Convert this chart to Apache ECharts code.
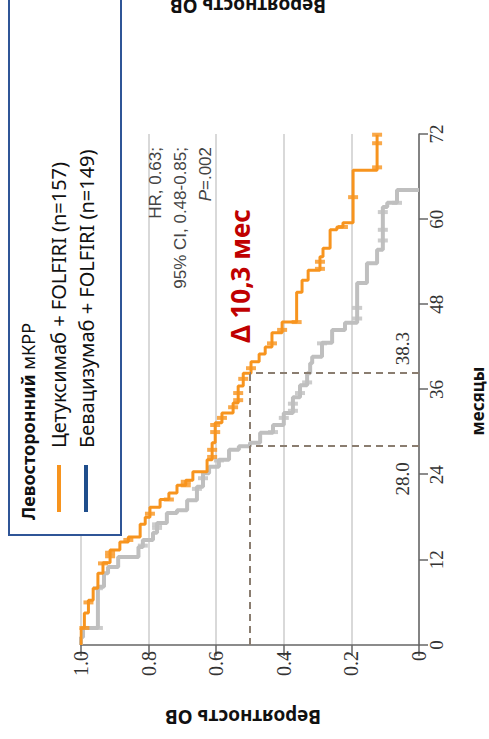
<!DOCTYPE html>
<html><head><meta charset="utf-8">
<script src="https://cdn.jsdelivr.net/npm/echarts@6/dist/echarts.min.js"></script>
<style>
html,body{margin:0;padding:0;width:489px;height:739px;overflow:hidden;background:#fff;}
#chart{position:absolute;left:0;top:0;width:739px;height:489px;transform-origin:0 0;transform:translate(0,739px) rotate(-90deg);}
</style></head><body><div id="chart"></div>
<script>
// ---- data ----
const monthTicks = [0, 12, 24, 36, 48, 60, 72];
const probTicks = [0, 0.2, 0.4, 0.6, 0.8, 1.0];
const cetuxName = 'Цетуксимаб + FOLFIRI (n=157)';
const bevaName = 'Бевацизумаб + FOLFIRI (n=149)';
const cetuxTimes = [2.4, 4.5, 6.3, 8.0, 10.1, 11.6, 13.4, 14.5, 15.2, 17.0, 18.0, 19.4, 20.5, 21.4, 22.5, 23.2, 24.4, 26.1, 28.5, 31.3, 32.7, 34.1, 36.5, 38.3, 39.9, 41.0, 42.0, 44.0, 45.5, 49.7, 51.4, 52.8, 54.7, 55.9, 58.5, 58.9, 59.5, 66.9];
const cetuxSurv = [0.990, 0.978, 0.964, 0.950, 0.935, 0.914, 0.885, 0.860, 0.825, 0.810, 0.796, 0.766, 0.740, 0.716, 0.690, 0.669, 0.627, 0.612, 0.603, 0.583, 0.550, 0.535, 0.520, 0.497, 0.473, 0.455, 0.435, 0.405, 0.362, 0.346, 0.328, 0.293, 0.284, 0.263, 0.243, 0.225, 0.195, 0.124];
const cetuxEnd = 71.9;
const cetuxCensor = [2.4, 6.0, 11.5, 12.5, 13.0, 14.8, 18.5, 20.5, 22.5, 23.0, 26.5, 27.5, 30.0, 31.0, 32.0, 33.5, 34.5, 35.5, 37.5, 39.0, 42.5, 44.4, 45.5, 53.0, 54.0, 58.9, 63.1, 67.3, 70.7, 71.9];
const bevaTimes = [1.1, 2.4, 8.2, 10.1, 11.0, 12.4, 13.8, 14.8, 15.8, 17.2, 18.6, 19.0, 20.4, 22.3, 24.2, 25.1, 26.1, 27.5, 28.0, 28.5, 29.9, 31.0, 32.7, 34.9, 36.6, 38.3, 39.7, 40.6, 42.6, 44.4, 45.4, 51.0, 53.8, 55.7, 61.7, 62.3, 64.1];
const bevaSurv = [0.994, 0.950, 0.932, 0.920, 0.890, 0.830, 0.817, 0.787, 0.775, 0.746, 0.716, 0.686, 0.657, 0.639, 0.621, 0.592, 0.562, 0.533, 0.500, 0.470, 0.432, 0.400, 0.373, 0.352, 0.331, 0.322, 0.316, 0.287, 0.257, 0.219, 0.183, 0.154, 0.124, 0.107, 0.094, 0.065, 0];
const bevaEnd = 64.1;
const bevaCensor = [2.4, 8.0, 14.0, 16.5, 17.0, 22.0, 23.5, 26.0, 30.0, 32.0, 33.0, 34.0, 35.5, 37.0, 42.5, 46.0, 47.5, 57.0, 58.5, 61.0, 62.3];
const medianCetux = 38.3;
const medianBeva = 28.0;
const medianLabels = ['28.0', '38.3'];
const statLines = ['HR, 0.63;', '95% CI, 0.48-0.85;', '{i|P}=.002'];
const deltaText = 'Δ 10,3 мес';

// ---- helpers ----
function stepPoints(times, surv, end) {
  const pts = [[0, 1]];
  let prev = 1;
  for (let i = 0; i < times.length; i++) {
    pts.push([times[i], prev]);
    pts.push([times[i], surv[i]]);
    prev = surv[i];
  }
  if (end > times[times.length - 1]) pts.push([end, prev]);
  return pts;
}
function survAt(times, surv, t) {
  let v = 1;
  for (let i = 0; i < times.length; i++) { if (times[i] <= t) v = surv[i]; }
  return v;
}
const ORANGE = '#f7941e', GRAY = '#bfbfbf', BLUE = '#2f5597', DASH = '#8a7d70';
const serif = '"Liberation Serif", "DejaVu Serif", serif';
const sans = '"Noto Sans", "Open Sans", sans-serif';

const chart = echarts.init(document.getElementById('chart'), null, {renderer: 'svg', width: 739, height: 489});
chart.setOption({
  animation: false,
  backgroundColor: '#fff',
  grid: {left: 94, right: 134, top: 81, bottom: 70},
  xAxis: {
    type: 'value', min: 0, max: 72, interval: 12,
    axisLine: {lineStyle: {color: '#666', width: 1.5}},
    axisTick: {length: 9, lineStyle: {color: '#666', width: 1.5}},
    axisLabel: {fontFamily: serif, fontSize: 19, color: '#333', margin: 8},
    splitLine: {show: false}
  },
  yAxis: {
    type: 'value', min: 0, max: 1, interval: 0.2,
    axisLine: {show: true, lineStyle: {color: '#666', width: 1.5}},
    axisTick: {show: true, length: 11, lineStyle: {color: '#666', width: 1.5}},
    axisLabel: {fontFamily: serif, fontSize: 20, color: '#333', margin: 6,
      formatter: v => v === 0 ? '0' : v.toFixed(1)},
    splitLine: {show: true, lineStyle: {color: '#d9d9d9', width: 2}}
  },
  series: [
    {type: 'line', name: bevaName, data: stepPoints(bevaTimes, bevaSurv, bevaEnd), showSymbol: false,
     lineStyle: {color: GRAY, width: 4}, z: 3},
    {type: 'scatter', data: bevaCensor.map(t => [t, survAt(bevaTimes, bevaSurv, t)]),
     symbol: 'rect', symbolSize: [4, 10], itemStyle: {color: GRAY}, z: 3},
    {type: 'line', name: cetuxName, data: stepPoints(cetuxTimes, cetuxSurv, cetuxEnd), showSymbol: false,
     lineStyle: {color: ORANGE, width: 3}, z: 4,
     markLine: {silent: true, symbol: 'none', label: {show: false},
       lineStyle: {color: DASH, type: [7, 5], width: 2},
       data: [
         [{coord: [0, 0.5]}, {coord: [medianCetux, 0.5]}],
         [{coord: [medianBeva, 0]}, {coord: [medianBeva, 0.5]}],
         [{coord: [medianCetux, 0]}, {coord: [medianCetux, 0.5]}]
       ]}},
    {type: 'scatter', data: cetuxCensor.map(t => [t, survAt(cetuxTimes, cetuxSurv, t)]),
     symbol: 'rect', symbolSize: [4, 10], itemStyle: {color: ORANGE}, z: 4}
  ]
});

const pB = chart.convertToPixel({gridIndex: 0}, [medianBeva, 0]);
const pC = chart.convertToPixel({gridIndex: 0}, [medianCetux, 0]);
chart.setOption({
  graphic: [
    {type: 'rect', z: 100, shape: {x: 204, y: 9, width: 560, height: 112},
     style: {fill: '#fff', stroke: BLUE, lineWidth: 2}},
    {type: 'text', z: 101, x: 219, y: 28, style: {
      text: '{b|Левосторонний} мКРР', font: '18px ' + sans, fill: '#111', verticalAlign: 'middle',
      rich: {b: {fontWeight: 'bold', fontSize: 18, fontFamily: sans}}}},
    {type: 'line', z: 101, shape: {x1: 227, y1: 59, x2: 274, y2: 59}, style: {stroke: ORANGE, lineWidth: 4}},
    {type: 'line', z: 101, shape: {x1: 227, y1: 86, x2: 274, y2: 86}, style: {stroke: '#1f4e8c', lineWidth: 4}},
    {type: 'text', z: 101, x: 291, y: 58, style: {text: cetuxName, font: '20px ' + sans, fill: '#111', verticalAlign: 'middle'}},
    {type: 'text', z: 101, x: 291, y: 86, style: {text: bevaName, font: '20px ' + sans, fill: '#111', verticalAlign: 'middle'}},
    {type: 'text', x: 592, y: 155, style: {text: statLines[0], font: '17px "Liberation Sans", sans-serif', fill: '#444', align: 'right', verticalAlign: 'middle'}},
    {type: 'text', x: 592, y: 180, style: {text: statLines[1], font: '17px "Liberation Sans", sans-serif', fill: '#444', align: 'right', verticalAlign: 'middle'}},
    {type: 'text', x: 592, y: 205, style: {text: statLines[2], font: '17px "Liberation Sans", sans-serif', fill: '#444', align: 'right', verticalAlign: 'middle',
      rich: {i: {fontStyle: 'italic', fontSize: 17, fontFamily: '"Liberation Sans", sans-serif'}}}},
    {type: 'text', x: 463, y: 240, style: {text: deltaText, font: 'bold 26px ' + sans, fill: '#c00000', align: 'center', verticalAlign: 'middle'}},
    {type: 'text', x: pB[0] - 16, y: pB[1] - 17, style: {text: medianLabels[0], font: '19px ' + serif, fill: '#333', align: 'right', verticalAlign: 'middle'}},
    {type: 'text', x: pC[0] + 8, y: pC[1] - 17, style: {text: medianLabels[1], font: '19px ' + serif, fill: '#333', align: 'left', verticalAlign: 'middle'}},
    {type: 'text', x: 22, y: 243, rotation: Math.PI / 2, style: {text: 'Вероятность ОВ', font: 'bold 19px ' + sans, fill: '#111', align: 'center', verticalAlign: 'middle'}},
    {type: 'text', x: 724, y: 248, rotation: Math.PI / 2, style: {text: 'Вероятность ОВ', font: 'bold 19px ' + sans, fill: '#111', align: 'center', verticalAlign: 'top'}},
    {type: 'text', x: 338, y: 477, style: {text: 'месяцы', font: 'bold 17px ' + sans, fill: '#111', align: 'center', verticalAlign: 'middle'}}
  ]
});
</script></body></html>
